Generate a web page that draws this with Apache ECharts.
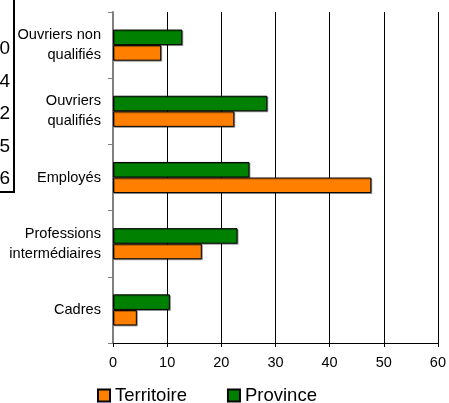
<!DOCTYPE html>
<html>
<head>
<meta charset="utf-8">
<script src="https://cdn.jsdelivr.net/npm/echarts@6/dist/echarts.min.js"></script>
<style>html,body{margin:0;padding:0;background:#fff;}#c{width:449px;height:403px;}</style>
</head>
<body>
<div id="c"></div>
<script>
var categories = ['Cadres', 'Professions\nintermédiaires', 'Employés', 'Ouvriers\nqualifiés', 'Ouvriers non\nqualifiés'];
var territoire = [4.4, 16.4, 47.7, 22.4, 8.9];
var province = [10.5, 23.0, 25.2, 28.5, 12.8];
var xTicks = [0, 10, 20, 30, 40, 50, 60];
var sideDigits = ['0', '4', '2', '5', '6'];

var FONT = 'Liberation Sans, Arial, sans-serif';
var chart = echarts.init(document.getElementById('c'), null, {renderer: 'canvas'});

var graphics = [
  {type: 'line', shape: {x1: 14, y1: 0, x2: 14, y2: 193}, style: {stroke: '#000', lineWidth: 2}},
  {type: 'line', shape: {x1: 0, y1: 192, x2: 15, y2: 192}, style: {stroke: '#000', lineWidth: 2}}
];
sideDigits.forEach(function (d, i) {
  graphics.push({
    type: 'text',
    x: 10, y: 49 + i * 32.5,
    style: {text: d, font: '19px ' + FONT, fill: '#000', align: 'right', verticalAlign: 'middle'}
  });
});

var barStyle = function (c) {
  return {color: c, borderColor: '#000', borderWidth: 1,
    shadowColor: 'rgba(0,0,0,0.35)', shadowOffsetX: 1, shadowOffsetY: 1, shadowBlur: 0};
};

chart.setOption({
  animation: false,
  backgroundColor: '#fff',
  textStyle: {fontFamily: FONT},
  grid: {left: 113, right: 8, top: 12, bottom: 60, containLabel: false},
  legend: {
    data: ['Territoire', 'Province'],
    left: 97, top: 386, padding: 0,
    itemWidth: 12, itemHeight: 12, itemGap: 40,
    icon: 'rect',
    textStyle: {fontSize: 18.5, color: '#000', fontFamily: FONT}
  },
  xAxis: {
    type: 'value', min: 0, max: 60, interval: 10,
    axisLine: {show: true, lineStyle: {color: '#000', width: 1}},
    axisTick: {show: true, length: 4, lineStyle: {color: '#000'}},
    axisLabel: {fontSize: 14.5, color: '#000', margin: 12, fontFamily: FONT,
      formatter: function (v) { return xTicks.indexOf(v) >= 0 ? String(v) : ''; }},
    splitLine: {show: true, lineStyle: {color: '#000', width: 1}}
  },
  yAxis: {
    type: 'category', data: categories,
    axisLine: {show: true, lineStyle: {color: '#808080', width: 2}},
    axisTick: {show: true, length: 5, lineStyle: {color: '#808080', width: 1}},
    axisLabel: {fontSize: 14.6, color: '#000', margin: 12, lineHeight: 20, align: 'right', fontFamily: FONT}
  },
  series: [
    {name: 'Province', type: 'bar', data: province, barGap: '0%', barCategoryGap: '53%',
      itemStyle: barStyle('#008000')},
    {name: 'Territoire', type: 'bar', data: territoire, barGap: '0%', barCategoryGap: '53%',
      itemStyle: barStyle('#FF8000')}
  ],
  graphic: graphics
});
</script>
</body>
</html>
